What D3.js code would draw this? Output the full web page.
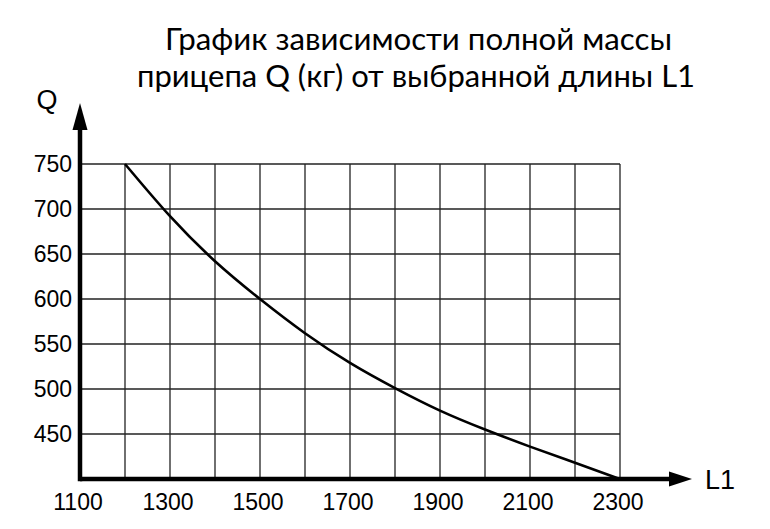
<!DOCTYPE html>
<html>
<head>
<meta charset="utf-8">
<script src="https://cdn.jsdelivr.net/npm/d3@7"></script>
<style>
  html, body { margin: 0; padding: 0; background: #fff; }
  svg { display: block; }
</style>
</head>
<body>
<svg id="chart" width="770" height="529"></svg>
<script>
// ---- data ----
const titleLines = ["График зависимости полной массы", "прицепа Q (кг) от выбранной длины L1"];
const xLabel = "L1";
const yLabel = "Q";
const lengths = [1200, 1300, 1400, 1500, 1600, 1700, 1800, 1900, 2000, 2100, 2200, 2300];
const masses  = [750, 692, 642, 600, 562, 529, 501, 476, 455, 436, 418, 400];
const xTickLabels = [1100, 1300, 1500, 1700, 1900, 2100, 2300];
const xGrid = [1200, 1300, 1400, 1500, 1600, 1700, 1800, 1900, 2000, 2100, 2200, 2300];
const yTickLabels = [450, 500, 550, 600, 650, 700, 750];

// ---- layout ----
const svg = d3.select("#chart");
const x = d3.scaleLinear().domain([1100, 2300]).range([80, 620]);
const y = d3.scaleLinear().domain([400, 750]).range([479, 164]);

// title
const titleX = [418.5, 416];
const titleY = [49.5, 87];
const titleW = [507, 558];
svg.selectAll("text.title").data(titleLines).join("text")
  .attr("class", "title")
  .attr("x", (d, i) => titleX[i])
  .attr("y", (d, i) => titleY[i])
  .attr("text-anchor", "middle")
  .attr("textLength", (d, i) => titleW[i])
  .attr("lengthAdjust", "spacingAndGlyphs")
  .style("font-family", "Lato, 'Open Sans', sans-serif")
  .style("font-size", "30.5px")
  .style("fill", "#000")
  .text(d => d);

// grid
const grid = svg.append("g").attr("class", "grid");
grid.selectAll("line.v").data(xGrid).join("line")
  .attr("class", "v")
  .attr("x1", d => x(d)).attr("x2", d => x(d))
  .attr("y1", y(400)).attr("y2", y(750))
  .attr("stroke", "#222").attr("stroke-width", 1.3);
grid.selectAll("line.h").data(yTickLabels).join("line")
  .attr("class", "h")
  .attr("x1", x(1100)).attr("x2", x(2300))
  .attr("y1", d => y(d)).attr("y2", d => y(d))
  .attr("stroke", "#222").attr("stroke-width", 1.3);

// curve
const pts = lengths.map((l, i) => [l, masses[i]]);
svg.append("path")
  .datum(pts)
  .attr("fill", "none")
  .attr("stroke", "#000")
  .attr("stroke-width", 2.6)
  .attr("d", d3.line().x(d => x(d[0])).y(d => y(d[1])).curve(d3.curveNatural));

// axes
const axisColor = "#000";
svg.append("line")
  .attr("x1", x(1100)).attr("x2", 672)
  .attr("y1", y(400)).attr("y2", y(400))
  .attr("stroke", axisColor).attr("stroke-width", 4.5);
svg.append("line")
  .attr("x1", x(1100)).attr("x2", x(1100))
  .attr("y1", y(400) + 2.2).attr("y2", 128)
  .attr("stroke", axisColor).attr("stroke-width", 4.5);
// arrowheads
svg.append("path")
  .attr("d", `M${692},${y(400)} L${669},${y(400) - 7.5} L${669},${y(400) + 7.5} Z`)
  .attr("fill", axisColor);
svg.append("path")
  .attr("d", `M${x(1100)},${103} L${x(1100) - 7.5},${130} L${x(1100) + 7.5},${130} Z`)
  .attr("fill", axisColor);

// tick labels
const lblFont = "'Liberation Sans', Arial, sans-serif";
svg.selectAll("text.xt").data(xTickLabels).join("text")
  .attr("class", "xt")
  .attr("x", d => x(d) - 2)
  .attr("y", 510)
  .attr("text-anchor", "middle")
  .style("font-family", lblFont)
  .style("font-size", "23px")
  .text(d => d);
svg.selectAll("text.yt").data(yTickLabels).join("text")
  .attr("class", "yt")
  .attr("x", 72)
  .attr("y", d => y(d))
  .attr("dy", "0.36em")
  .attr("text-anchor", "end")
  .style("font-family", lblFont)
  .style("font-size", "23px")
  .text(d => d);

// axis labels
svg.append("text")
  .attr("x", 47).attr("y", 109)
  .attr("text-anchor", "middle")
  .style("font-family", lblFont)
  .style("font-size", "27px")
  .text(yLabel);
svg.append("text")
  .attr("x", 705).attr("y", 489)
  .style("font-family", lblFont)
  .style("font-size", "27px")
  .text(xLabel);
</script>
</body>
</html>
